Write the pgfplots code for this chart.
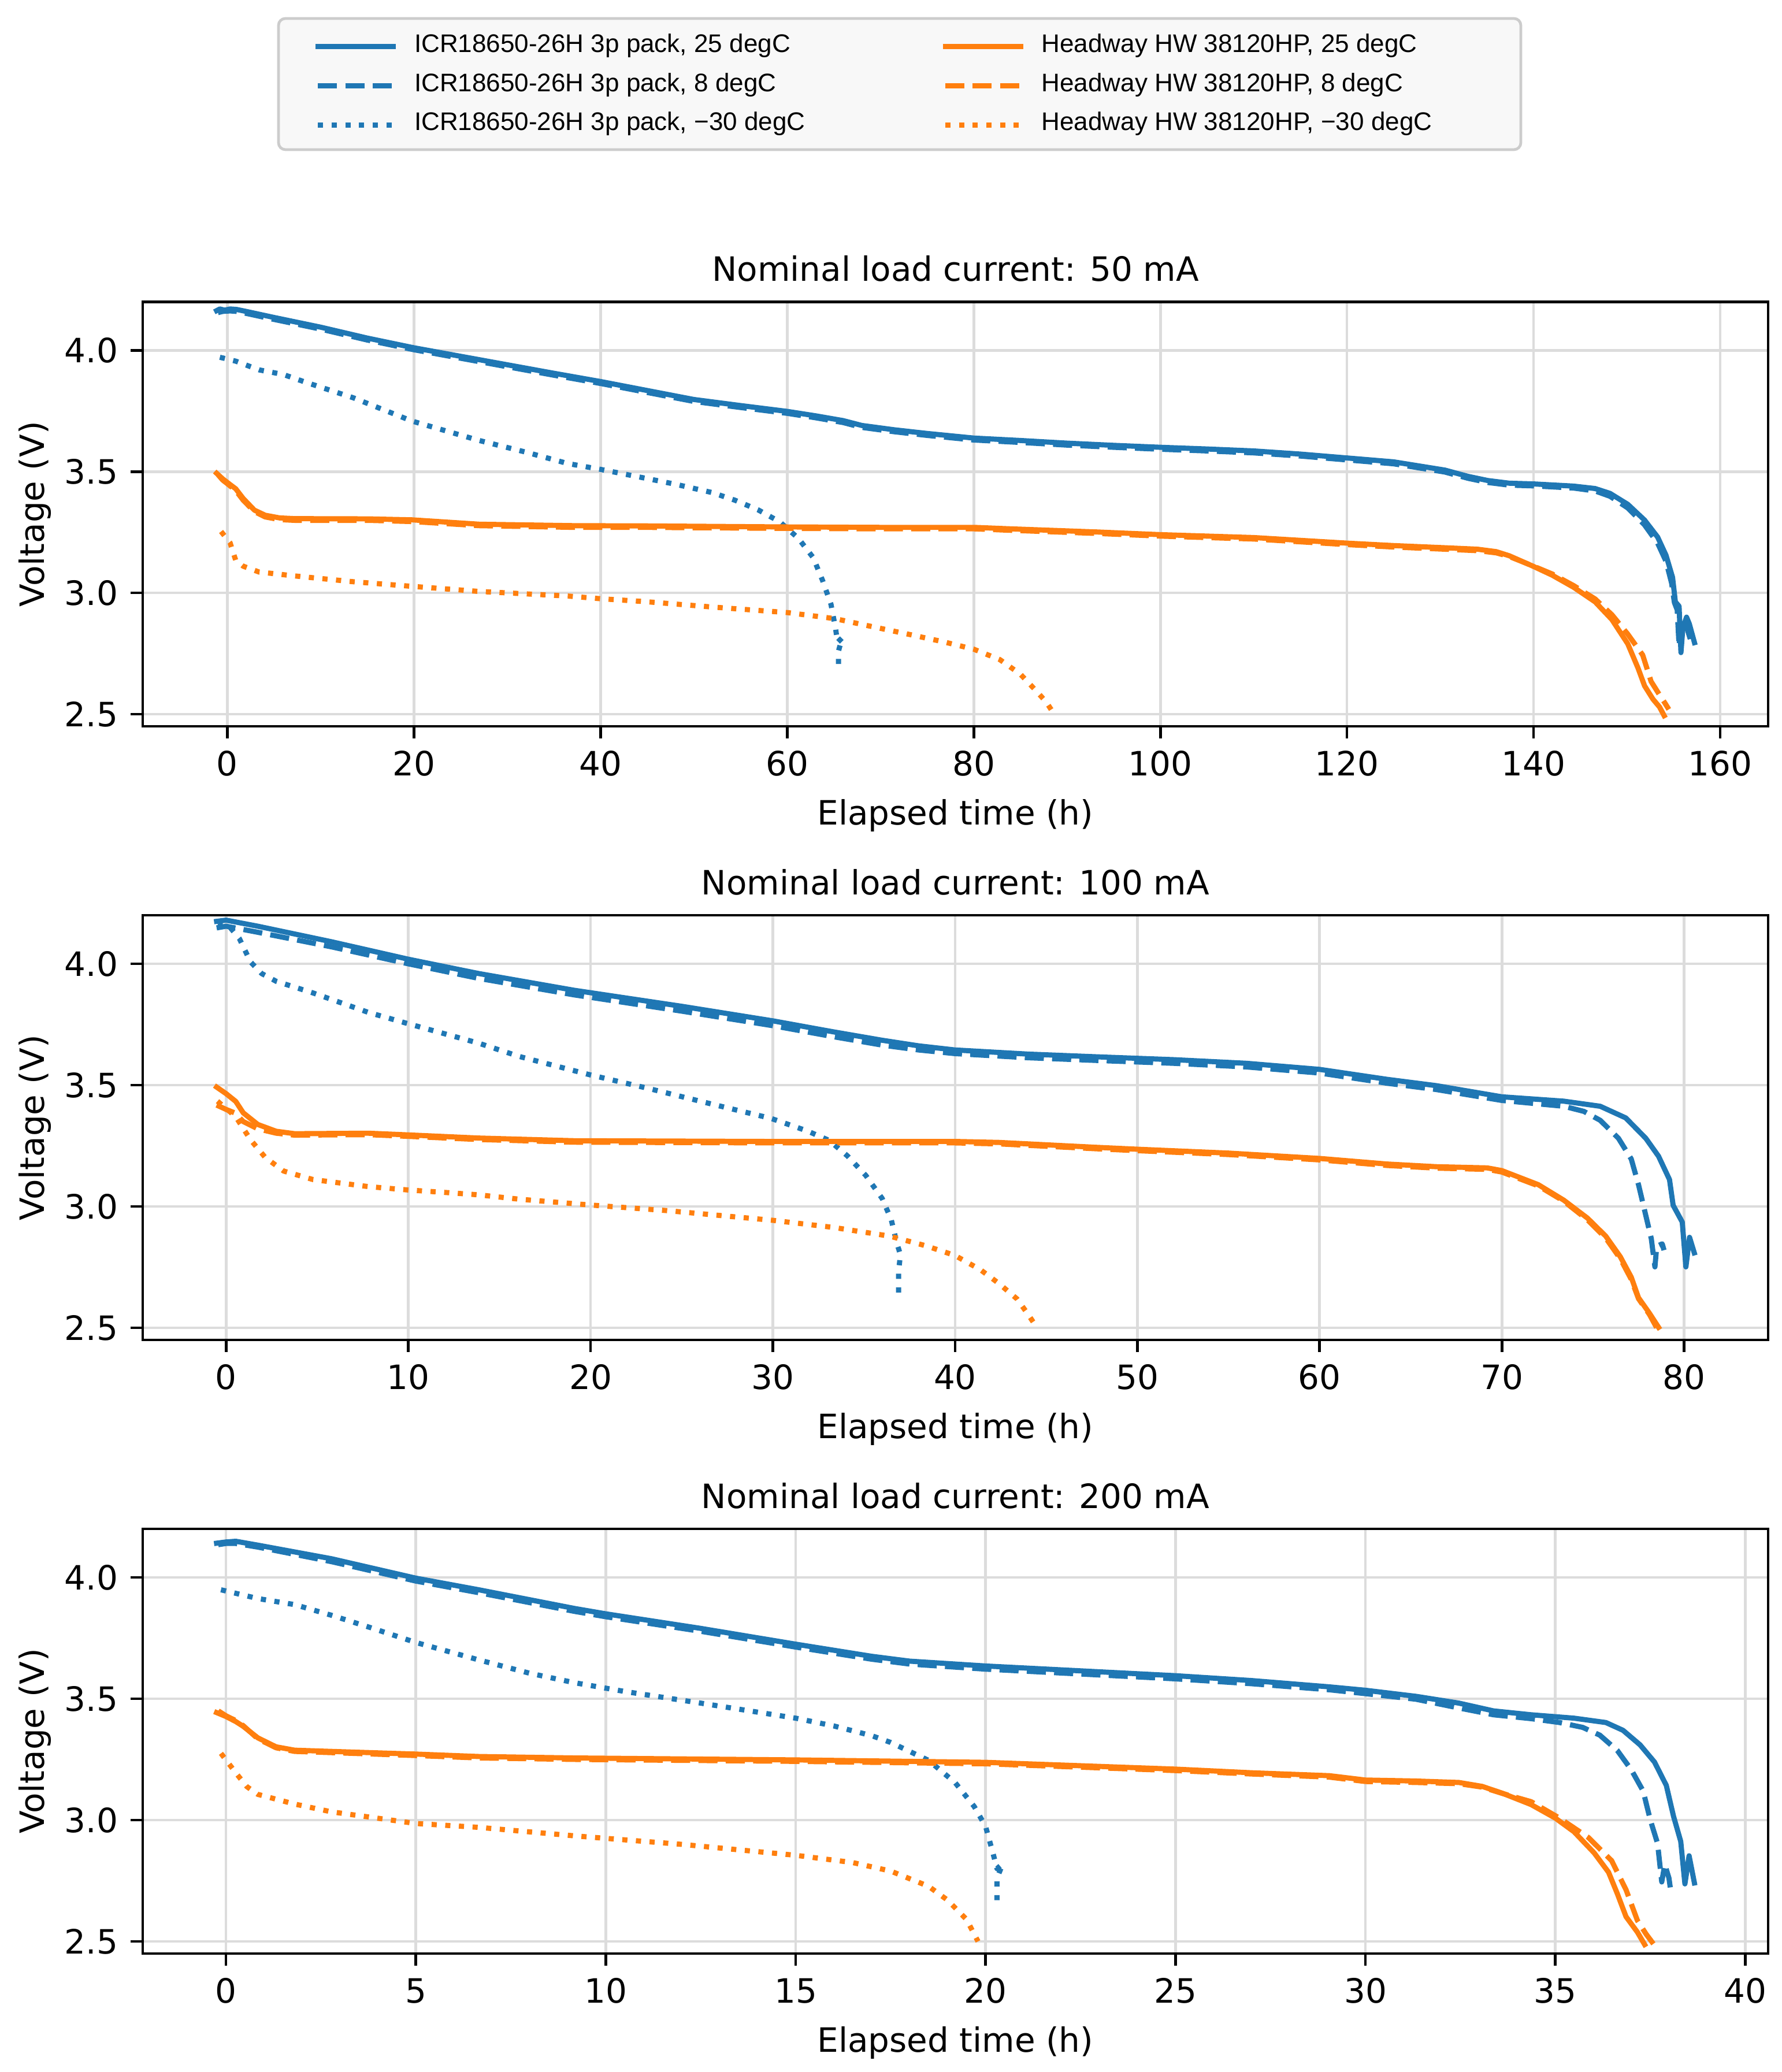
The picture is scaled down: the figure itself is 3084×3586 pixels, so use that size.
\documentclass[border=0pt]{standalone}
\usepackage{fontspec}
\setmainfont{DejaVu Sans}
\newfontfamily\legfont{Liberation Sans}
\usepackage{pgfplots}
\pgfplotsset{compat=1.18}
\definecolor{c0}{HTML}{1F77B4}
\definecolor{c1}{HTML}{FF7F0E}
\definecolor{gridc}{HTML}{DCDCDC}
\definecolor{legfill}{HTML}{F8F8F8}
\definecolor{legedge}{HTML}{CCCCCC}
\tikzset{
  bS/.style={c0, line width=1.5pt, line join=round, line cap=rect},
  bD/.style={c0, line width=1.5pt, line join=round, dash pattern=on 5.55pt off 2.4pt},
  bT/.style={c0, line width=1.5pt, line join=round, dash pattern=on 1.5pt off 2.475pt},
  oS/.style={c1, line width=1.5pt, line join=round, line cap=rect},
  oD/.style={c1, line width=1.5pt, line join=round, dash pattern=on 5.55pt off 2.4pt},
  oT/.style={c1, line width=1.5pt, line join=round, dash pattern=on 1.5pt off 2.475pt},
}
\pgfplotsset{
  mpl/.style={
    scale only axis, width=472.87pt, height=123.55pt,
    ymin=2.45, ymax=4.2, ytick={2.5,3.0,3.5,4.0},
    axis line style={line width=0.8pt, black},
    every tick/.style={black, line width=0.8pt},
    major tick length=3.5pt, tick align=outside, tick pos=left,
    grid=major, major grid style={gridc, line width=0.8pt},
    /pgf/number format/assume math mode=true,
    yticklabel style={inner sep=0pt, xshift=-3.5pt, /pgf/number format/fixed, /pgf/number format/fixed zerofill, /pgf/number format/precision=1},
    xticklabel style={inner sep=0pt, yshift=-3.5pt},
    every axis title/.style={at={(axis description cs:0.5,1)}, anchor=base, yshift=6.05pt, inner sep=0pt},
    every axis x label/.style={at={(axis description cs:0.5,0)}, anchor=base, yshift=-28.6pt, inner sep=0pt},
    every axis y label/.style={at={([xshift=-28.6pt]axis description cs:0,0.5)}, rotate=90, anchor=base, inner sep=0pt},
    xlabel={Elapsed time (h)}, ylabel={Voltage (V)},
  }
}
\begin{document}
\fontsize{9.75}{11.7}\selectfont
\begin{tikzpicture}[x=0.1681pt,y=0.1681pt]
\useasboundingbox (0,0) rectangle (3084,3586);
\draw[legedge, fill=legfill, line width=0.8pt, rounded corners=2pt] (482,3554) rectangle (2632,3327);
% ---------------- panel 1 ----------------
\begin{axis}[mpl, at={(41.52pt,391.50pt)}, anchor=south west,
  xmin=-9.07, xmax=165.14, xtick={0,20,...,160},
  title={Nominal load current: 50 mA},
  legend columns=2, legend cell align=left,
  legend image code/.code={\draw[#1] (0pt,1.6pt) -- (21.86pt,1.6pt);},
  legend style={at={(0.10629,1.6314)}, anchor=north west, draw=none, fill=none,
    inner sep=0pt, outer sep=0pt, font=\legfont\fontsize{7.4}{8.9}\selectfont,
    nodes={inner sep=0pt, text height=5.4pt, text depth=2.2pt, anchor=base west},
    row sep=3.8pt, column sep=5.4pt,
    /tikz/every even column/.append style={column sep=40pt}},
]
\addlegendimage{bS}\addlegendentry{ICR18650-26H 3p pack, 25 degC}
\addlegendimage{oS}\addlegendentry{Headway HW 38120HP, 25 degC}
\addlegendimage{bD}\addlegendentry{ICR18650-26H 3p pack, 8 degC}
\addlegendimage{oD}\addlegendentry{Headway HW 38120HP, 8 degC}
\addlegendimage{bT}\addlegendentry{ICR18650-26H 3p pack, −30 degC}
\addlegendimage{oT}\addlegendentry{Headway HW 38120HP, −30 degC}
\addplot[bS, forget plot] coordinates {(-1.15,4.163) (-0.8,4.17) (-0.3,4.165) (0.3,4.17) (1,4.168) (2,4.16) (5,4.135) (10,4.095) (15,4.05) (20,4.01) (25,3.975) (30,3.94) (35,3.905) (40,3.871) (45,3.834) (50,3.797) (55,3.772) (60,3.748) (63,3.73) (66,3.71) (68,3.69) (71.5,3.672) (75,3.657) (80,3.638) (85,3.628) (90,3.617) (95,3.608) (100,3.60) (105,3.593) (110,3.585) (115,3.572) (120,3.556) (125,3.54) (130.5,3.506) (133,3.48) (135.1,3.463) (137.4,3.452) (140,3.449) (144.3,3.44) (146.6,3.43) (148.2,3.41) (150.1,3.365) (151.9,3.30) (153.3,3.23) (154.2,3.155) (154.9,3.064) (155.2,2.963) (155.6,2.945) (155.8,2.754) (156.0,2.854) (156.4,2.90) (156.7,2.872) (157.25,2.795)};
\addplot[bD, forget plot] coordinates {(-1.0,4.155) (-0.5,4.16) (0.3,4.162) (1,4.16) (2,4.152) (5,4.127) (10,4.087) (15,4.042) (20,4.002) (25,3.967) (30,3.932) (35,3.897) (40,3.863) (45,3.826) (50,3.789) (55,3.764) (60,3.74) (63,3.722) (66,3.702) (68,3.682) (71.5,3.664) (75,3.649) (80,3.63) (85,3.62) (90,3.609) (95,3.60) (100,3.592) (105,3.585) (110,3.577) (115,3.564) (120,3.548) (125,3.532) (130.5,3.498) (133,3.472) (135.1,3.455) (137.4,3.444) (140,3.441) (144.3,3.432) (146.6,3.42) (148.2,3.398) (150.1,3.35) (151.9,3.28) (153.3,3.205) (154.2,3.13) (154.8,3.04) (155.1,2.96) (155.4,2.93) (155.6,2.78) (155.8,2.87) (156.1,2.89) (156.4,2.86) (156.8,2.81)};
\addplot[bT, forget plot] coordinates {(-0.8,3.971) (0.9,3.955) (3.4,3.919) (6,3.90) (8.4,3.868) (13.5,3.804) (19.8,3.708) (27,3.628) (32,3.58) (36.5,3.533) (40,3.509) (44.1,3.478) (48,3.448) (51.9,3.414) (54.4,3.382) (56.9,3.342) (59.2,3.293) (61.2,3.225) (62.8,3.145) (63.8,3.051) (64.7,2.953) (65.2,2.851) (65.4,2.796) (65.9,2.815) (65.5,2.76) (65.5,2.69)};
\addplot[oS, forget plot] coordinates {(-1.15,3.493) (-0.5,3.47) (0,3.455) (0.9,3.429) (1.7,3.389) (2.9,3.341) (4.06,3.32) (5.6,3.309) (7.2,3.306) (15.1,3.305) (19.8,3.301) (27,3.283) (37.2,3.277) (45,3.276) (59,3.272) (70,3.27) (80,3.27) (83.9,3.264) (93.2,3.251) (100,3.24) (110,3.228) (120,3.205) (125,3.195) (130.5,3.186) (134,3.18) (136,3.17) (137.4,3.153) (140,3.109) (142,3.073) (144.3,3.023) (146.6,2.963) (148.4,2.89) (150.1,2.79) (151.2,2.69) (151.9,2.617) (152.8,2.562) (153.5,2.53) (154.0,2.494)};
\addplot[oD, forget plot] coordinates {(-1.0,3.487) (-0.5,3.465) (0,3.45) (0.9,3.422) (1.7,3.382) (2.9,3.335) (4.06,3.313) (5.6,3.302) (7.2,3.299) (15.1,3.299) (19.8,3.294) (27,3.277) (37.2,3.27) (45,3.27) (59,3.266) (70,3.264) (80,3.264) (83.9,3.258) (93.2,3.245) (100,3.234) (110,3.222) (120,3.199) (125,3.189) (130.5,3.18) (134,3.174) (136,3.165) (137.4,3.15) (140,3.11) (142,3.078) (144.3,3.03) (146.6,2.975) (148.4,2.91) (150.1,2.83) (151.7,2.744) (152.6,2.635) (153.5,2.58) (154.1,2.545) (154.5,2.52)};
\addplot[oT, forget plot] coordinates {(-0.67,3.253) (0.3,3.206) (0.9,3.134) (1.7,3.11) (3.4,3.086) (7.2,3.07) (13.5,3.046) (19.8,3.027) (27,3.006) (36.5,2.987) (40,2.976) (44.8,2.964) (51.9,2.942) (60,2.919) (65.1,2.894) (69,2.862) (73.2,2.828) (76.8,2.798) (80,2.768) (82.8,2.725) (85,2.665) (86.7,2.596) (87.8,2.549) (88.5,2.507)};
\end{axis}
% ---------------- panel 2 ----------------
\begin{axis}[mpl, at={(41.52pt,212.98pt)}, anchor=south west,
  xmin=-4.575, xmax=84.61, xtick={0,10,...,80},
  title={Nominal load current: 100 mA}]
\addplot[bS] coordinates {(-0.52,4.175) (0,4.18) (1.74,4.155) (5.78,4.091) (10,4.019) (13.86,3.96) (19.1,3.891) (25,3.825) (30,3.765) (33.3,3.72) (36,3.685) (38,3.662) (40,3.645) (44,3.628) (47.7,3.617) (52,3.605) (56,3.59) (60,3.565) (63.7,3.524) (66.4,3.498) (70,3.452) (73.4,3.434) (75.4,3.413) (76.8,3.365) (77.9,3.281) (78.6,3.207) (79.2,3.111) (79.4,3.005) (79.9,2.936) (80.1,2.751) (80.3,2.873) (80.56,2.809)};
\addplot[bD] coordinates {(-0.52,4.148) (0,4.155) (1.74,4.13) (5.78,4.07) (10,4.0) (13.86,3.94) (19.1,3.872) (25,3.805) (30,3.745) (33.3,3.70) (36,3.665) (38,3.645) (40,3.63) (44,3.613) (47.7,3.602) (52,3.59) (56,3.575) (60,3.55) (63.7,3.508) (66.4,3.482) (70,3.437) (73.4,3.413) (74.5,3.392) (75.4,3.355) (76.4,3.281) (77.1,3.196) (77.5,3.09) (77.9,2.963) (78.2,2.868) (78.4,2.751) (78.5,2.836) (78.8,2.846) (78.9,2.82)};
\addplot[bT] coordinates {(-0.45,4.155) (0.1,4.16) (0.33,4.14) (0.73,4.104) (1.34,4.008) (1.95,3.96) (2.75,3.928) (4.77,3.88) (7.8,3.80) (10,3.753) (13.86,3.673) (16.1,3.618) (20,3.542) (23.2,3.486) (26.6,3.423) (29.9,3.363) (31.9,3.311) (33.1,3.272) (34.1,3.208) (35.1,3.128) (36.0,3.033) (36.5,2.945) (36.8,2.85) (37.0,2.802) (36.9,2.731) (36.9,2.643)};
\addplot[oS] coordinates {(-0.52,3.492) (0,3.465) (0.53,3.433) (0.94,3.386) (1.74,3.338) (2.75,3.31) (3.76,3.30) (7.8,3.302) (10,3.295) (13.86,3.282) (19.1,3.271) (30,3.268) (40,3.268) (42.4,3.264) (47.7,3.244) (50,3.236) (55,3.22) (60,3.198) (63.7,3.175) (66.4,3.164) (69.2,3.159) (70,3.148) (72,3.09) (73.4,3.026) (74.7,2.952) (75.7,2.878) (76.5,2.793) (77.1,2.709) (77.5,2.624) (78.1,2.56) (78.6,2.502)};
\addplot[oD] coordinates {(-0.52,3.418) (0,3.40) (0.5,3.385) (0.94,3.35) (1.74,3.32) (2.75,3.302) (3.76,3.294) (7.8,3.296) (10,3.289) (13.86,3.276) (19.1,3.265) (30,3.262) (40,3.262) (42.4,3.258) (47.7,3.238) (50,3.23) (55,3.214) (60,3.192) (63.7,3.169) (66.4,3.158) (69.2,3.153) (70,3.142) (72,3.085) (73.4,3.022) (74.7,2.945) (75.7,2.87) (76.5,2.785) (77.1,2.70) (77.5,2.62) (78.1,2.555) (78.5,2.50)};
\addplot[oT] coordinates {(-0.47,3.434) (0.53,3.37) (1.34,3.275) (2.15,3.202) (3.16,3.146) (4.77,3.111) (7.8,3.082) (10,3.068) (12,3.058) (13.86,3.048) (16.1,3.03) (20,3.006) (24.2,2.983) (30,2.943) (33.3,2.914) (36.4,2.878) (38.4,2.838) (40,2.798) (41.4,2.739) (42.4,2.683) (43.4,2.619) (44.0,2.556) (44.5,2.50)};
\end{axis}
% ---------------- panel 3 ----------------
\begin{axis}[mpl, at={(41.52pt,34.46pt)}, anchor=south west,
  xmin=-2.19, xmax=40.6, xtick={0,5,...,40},
  title={Nominal load current: 200 mA}]
\addplot[bS] coordinates {(-0.245,4.141) (0,4.146) (0.26,4.149) (0.84,4.133) (2.78,4.077) (5,3.997) (6.66,3.949) (9.18,3.872) (10,3.85) (12.5,3.79) (15,3.725) (17,3.675) (18,3.655) (20,3.635) (22.5,3.615) (25,3.595) (27,3.575) (29.05,3.549) (30,3.535) (31.33,3.51) (32.46,3.482) (33.37,3.45) (34.36,3.434) (35.49,3.42) (36.33,3.402) (36.78,3.37) (37.23,3.31) (37.61,3.239) (37.92,3.143) (38.11,3.016) (38.3,2.912) (38.41,2.737) (38.52,2.853) (38.66,2.741)};
\addplot[bD] coordinates {(-0.2,4.135) (0,4.14) (0.26,4.14) (0.84,4.125) (2.78,4.065) (5,3.985) (6.66,3.937) (9.18,3.86) (10,3.838) (12.5,3.778) (15,3.713) (17,3.663) (18,3.643) (20,3.622) (22.5,3.602) (25,3.582) (27,3.562) (29.05,3.537) (30,3.521) (31.33,3.498) (32.46,3.462) (33.37,3.434) (34.36,3.418) (35.11,3.402) (35.72,3.382) (36.17,3.35) (36.63,3.287) (37.0,3.207) (37.31,3.12) (37.5,3.0) (37.69,2.904) (37.8,2.745) (37.88,2.817) (37.99,2.761) (38.05,2.693)};
\addplot[bT] coordinates {(-0.13,3.949) (0.84,3.913) (1.81,3.888) (2.78,3.844) (3.75,3.796) (5,3.732) (6.66,3.66) (8,3.605) (9.18,3.566) (10.5,3.53) (12.5,3.482) (15,3.42) (16,3.388) (17,3.348) (17.5,3.32) (18.5,3.246) (19.2,3.154) (19.7,3.056) (20.0,2.974) (20.2,2.86) (20.3,2.80) (20.45,2.82) (20.3,2.76) (20.3,2.65)};
\addplot[oS] coordinates {(-0.245,3.443) (0,3.427) (0.26,3.406) (0.45,3.387) (0.84,3.339) (1.32,3.302) (1.81,3.288) (2.78,3.283) (5,3.272) (6.66,3.262) (9.18,3.256) (15,3.248) (20,3.238) (25,3.21) (27,3.195) (29.05,3.183) (30,3.165) (31.33,3.161) (32.46,3.155) (33.07,3.139) (33.6,3.111) (34.36,3.064) (35,3.008) (35.49,2.952) (36.02,2.865) (36.4,2.785) (36.63,2.697) (36.86,2.602) (37.16,2.538) (37.35,2.487)};
\addplot[oD] coordinates {(-0.2,3.45) (0,3.43) (0.26,3.41) (0.45,3.39) (0.84,3.335) (1.32,3.298) (1.81,3.283) (2.78,3.278) (5,3.266) (6.66,3.256) (9.18,3.25) (15,3.242) (20,3.232) (25,3.204) (27,3.19) (29.05,3.177) (30,3.159) (31.33,3.155) (32.46,3.15) (33.07,3.136) (33.6,3.11) (34.36,3.076) (35.11,3.008) (35.87,2.928) (36.48,2.833) (36.86,2.713) (37.16,2.586) (37.39,2.53) (37.58,2.49)};
\addplot[oT] coordinates {(-0.13,3.275) (0.26,3.195) (0.55,3.138) (0.84,3.106) (1.81,3.066) (2.78,3.034) (5,2.986) (6.66,2.97) (9.18,2.935) (12,2.90) (15,2.855) (16.5,2.825) (17.5,2.79) (18.5,2.727) (19,2.67) (19.5,2.59) (19.8,2.50)};
\end{axis}
\end{tikzpicture}
\end{document}
